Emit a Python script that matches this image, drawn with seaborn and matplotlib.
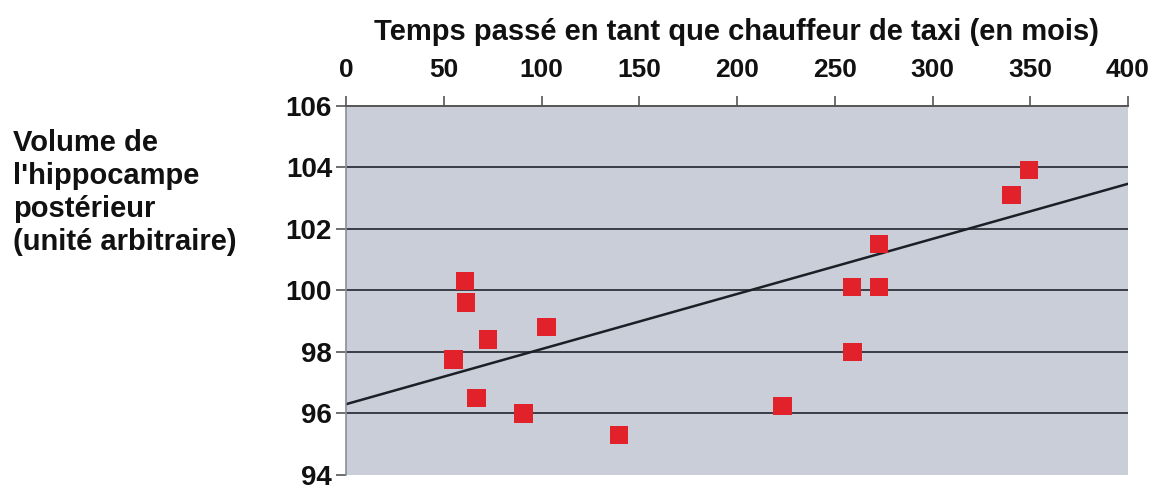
import matplotlib
matplotlib.use("Agg")
import matplotlib.pyplot as plt
import seaborn as sns
import numpy as np
import pandas as pd

# Data
months = [61.0, 61.4, 72.5, 55.0, 102.6, 66.8, 90.7, 139.6,
          340.5, 272.6, 258.7, 272.6, 259.0, 223.2, 349.5]
volume = [100.3, 99.6, 98.4, 97.75, 98.8, 96.5, 96.0, 95.3,
          103.1, 101.5, 100.1, 100.1, 98.0, 96.25, 103.9]
fit_intercept = 96.3
fit_slope = 0.0179
x_ticks = [0, 50, 100, 150, 200, 250, 300, 350, 400]
y_ticks = [94, 96, 98, 100, 102, 104, 106]
x_title = "Temps passé en tant que chauffeur de taxi (en mois)"
y_title = "Volume de\nl'hippocampe\npostérieur\n(unité arbitraire)"

df = pd.DataFrame({"months": months, "volume": volume})

sns.set_style("white")
plt.rcParams["font.family"] = ["Liberation Sans", "DejaVu Sans"]

fig = plt.figure(figsize=(11.58, 4.90), dpi=100)
ax = fig.add_axes([346 / 1158, 1 - 475 / 490, (1128 - 346) / 1158, (475 - 105.6) / 490])
ax.set_facecolor("#c9ced8")

ax.set_xlim(0, 400)
ax.set_ylim(94, 106)

for yv in y_ticks[1:-1]:
    ax.axhline(yv, color="#3a3d45", lw=1.4, zorder=1)

fx = np.array([0, 400])
ax.plot(fx, fit_intercept + fit_slope * fx, color="#1c1f26", lw=1.8, zorder=2)

sns.scatterplot(data=df, x="months", y="volume", marker="s", s=175,
                color="#e2222b", edgecolor="none", linewidth=0, ax=ax, zorder=3)

ax.set_xticks(x_ticks)
ax.set_yticks(y_ticks)
ax.xaxis.tick_top()
ax.xaxis.set_label_position("top")
ax.tick_params(axis="x", top=True, bottom=False, direction="out", length=7,
               width=1.2, color="#555555", pad=10, labelsize=19)
ax.tick_params(axis="y", left=True, direction="out", length=7, width=1.2,
               color="#555555", pad=3, labelsize=20)
for lab in ax.get_xticklabels() + ax.get_yticklabels():
    lab.set_fontweight("bold")
    lab.set_color("#111111")

ax.set_xlabel(x_title, fontsize=21, fontweight="bold", color="#111111", labelpad=13)
ax.set_ylabel("")

for side in ["right", "bottom"]:
    ax.spines[side].set_visible(False)
ax.spines["top"].set_color("#555555")
ax.spines["top"].set_linewidth(1.4)
ax.spines["left"].set_color("#8a8e96")
ax.spines["left"].set_linewidth(1.2)

fig.text(13 / 1158, 1 - 129 / 490, y_title, ha="left", va="top", fontsize=21,
         fontweight="bold", color="#111111", linespacing=1.22)

fig.savefig("out.png", dpi=100)
